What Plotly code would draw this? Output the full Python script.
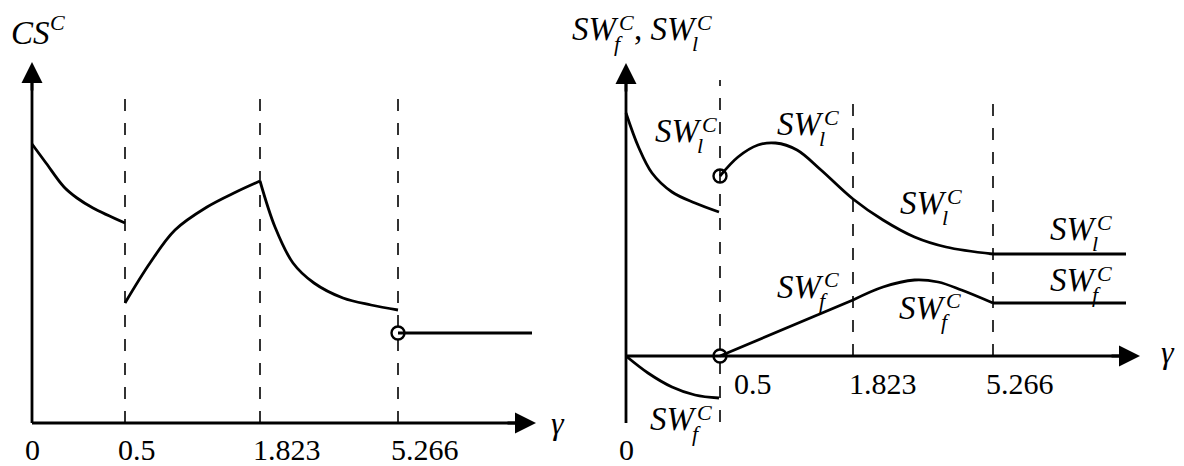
import plotly.graph_objects as go

# ---------------- data (schematic units) ----------------
gamma_ticks = ["0", "0.5", "1.823", "5.266"]
tick_pos_left = [0.0, 0.93, 2.28, 3.66]
tick_pos_right = [0.0, 0.94, 2.27, 3.67]

# Left panel: CS^C
cs1_x = [0.0, 0.14, 0.32, 0.45, 0.61, 0.93]
cs1_y = [2.79, 2.60, 2.36, 2.25, 2.15, 2.00]
cs2_x = [0.93, 1.18, 1.43, 1.75, 2.04, 2.28]
cs2_y = [1.20, 1.60, 1.93, 2.16, 2.31, 2.42]
cs3_x = [2.28, 2.43, 2.61, 2.82, 3.11, 3.39, 3.66]
cs3_y = [2.42, 1.96, 1.60, 1.40, 1.25, 1.18, 1.13]
cs4_x = [3.66, 5.00]
cs4_y = [0.90, 0.90]

# Right panel: SW_l^C
swl1_x = [0.0, 0.125, 0.26, 0.46, 0.69, 0.93]
swl1_y = [2.43, 2.09, 1.83, 1.64, 1.53, 1.44]
swl2_x = [0.94, 1.12, 1.32, 1.495, 1.71, 1.95, 2.27, 2.57, 2.885, 3.20, 3.67]
swl2_y = [1.80, 1.99, 2.11, 2.13, 2.06, 1.86, 1.57, 1.36, 1.19, 1.09, 1.02]
swl3_x = [3.67, 5.00]
swl3_y = [1.02, 1.02]

# Right panel: SW_f^C
swf1_x = [0.0, 0.22, 0.46, 0.69, 0.93]
swf1_y = [0.0, -0.17, -0.31, -0.39, -0.42]
swf2_x = [0.94, 2.27]
swf2_y = [0.0, 0.56]
swf3_x = [2.27, 2.57, 2.885, 3.12, 3.355, 3.67]
swf3_y = [0.56, 0.69, 0.76, 0.74, 0.66, 0.53]
swf4_x = [3.67, 5.00]
swf4_y = [0.53, 0.53]

# open circles (discontinuities)
left_open_x = [3.66]
left_open_y = [0.90]
right_open_x = [0.94, 0.94]
right_open_y = [1.80, 0.0]

# axis extents
left_xaxis_end = 5.04
left_yaxis_end = 3.61
right_xaxis_end = 5.14
right_yaxis_end = 2.93
right_yaxis_start = -0.67
left_dash_top = [3.35, 3.35, 3.35]
right_dash_top = [2.76, 2.56, 2.56]
right_dash_bottom = [-0.66, 0.0, 0.0]

FONT = "Liberation Serif, Liberation Sans, Arimo, sans-serif"
LW = 2.8

fig = go.Figure()


def line(x, y, xa, ya, shape="spline", width=LW, dash=None):
    fig.add_trace(go.Scatter(x=x, y=y, mode="lines", xaxis=xa, yaxis=ya,
                             line=dict(color="black", width=width, shape=shape,
                                       dash=dash, smoothing=1.0),
                             hoverinfo="skip", showlegend=False))


# dashed guide lines
for p, top in zip(tick_pos_left[1:], left_dash_top):
    line([p, p], [0, top], "x", "y", shape="linear", width=1.6, dash="12px,12px")
for p, top, bot in zip(tick_pos_right[1:], right_dash_top, right_dash_bottom):
    line([p, p], [bot, top], "x2", "y2", shape="linear", width=1.6, dash="12px,12px")

# axes lines
line([0, 0], [0, left_yaxis_end - 0.05], "x", "y", shape="linear", width=LW)
line([0, left_xaxis_end - 0.05], [0, 0], "x", "y", shape="linear", width=LW)
line([0, 0], [right_yaxis_start, right_yaxis_end - 0.05], "x2", "y2", shape="linear", width=LW)
line([0, right_xaxis_end - 0.05], [0, 0], "x2", "y2", shape="linear", width=LW)

# curves
for xs, ys in [(cs1_x, cs1_y), (cs2_x, cs2_y), (cs3_x, cs3_y)]:
    line(xs, ys, "x", "y")
line(cs4_x, cs4_y, "x", "y", shape="linear")
for xs, ys in [(swl1_x, swl1_y), (swl2_x, swl2_y), (swf1_x, swf1_y), (swf3_x, swf3_y)]:
    line(xs, ys, "x2", "y2")
for xs, ys in [(swl3_x, swl3_y), (swf2_x, swf2_y), (swf4_x, swf4_y)]:
    line(xs, ys, "x2", "y2", shape="linear")

# open circles
fig.add_trace(go.Scatter(x=left_open_x, y=left_open_y, mode="markers", xaxis="x", yaxis="y",
                         marker=dict(symbol="circle-open", size=13, color="black",
                                     line=dict(width=2.4, color="black")),
                         hoverinfo="skip", showlegend=False))
fig.add_trace(go.Scatter(x=right_open_x, y=right_open_y, mode="markers", xaxis="x2", yaxis="y2",
                         marker=dict(symbol="circle-open", size=13, color="black",
                                     line=dict(width=2.4, color="black")),
                         hoverinfo="skip", showlegend=False))

# arrow heads
def arrowhead(xr, yr, x, y, ax, ay):
    fig.add_annotation(x=x, y=y, ax=ax, ay=ay, xref=xr, yref=yr, axref=xr, ayref=yr,
                       text="", showarrow=True, arrowhead=2, arrowsize=1.5,
                       arrowwidth=LW, arrowcolor="black", standoff=0, startstandoff=0)

arrowhead("x", "y", 0, left_yaxis_end, 0, left_yaxis_end - 0.3)
arrowhead("x", "y", left_xaxis_end, 0, left_xaxis_end - 0.3, 0)
arrowhead("x2", "y2", 0, right_yaxis_end, 0, right_yaxis_end - 0.3)
arrowhead("x2", "y2", right_xaxis_end, 0, right_xaxis_end - 0.3, 0)


def text(xr, yr, x, y, t, size=30, xanchor="center", xshift=0, yshift=0):
    fig.add_annotation(x=x, y=y, xref=xr, yref=yr, text=t, showarrow=False,
                       xanchor=xanchor, yanchor="middle", xshift=xshift, yshift=yshift,
                       borderpad=0,
                       font=dict(family=FONT, size=size, color="black"))


def mlabel(xr, yr, s, v, main, sup=None, sub=None, size=33,
           sup_dy=7, sub_dy=-14, sup_dx=-2, sub_dx=-7, prefix=""):
    text(xr, yr, s, v, f"{prefix}<i>{main}</i>", size=size, xanchor="right")
    if sup:
        text(xr, yr, s, v, f"<i>{sup}</i>", size=round(size * 0.68), xanchor="left",
             xshift=sup_dx, yshift=sup_dy)
    if sub:
        text(xr, yr, s, v, f"<i>{sub}</i>", size=round(size * 0.68), xanchor="left",
             xshift=sub_dx, yshift=sub_dy)


# tick labels
text("x", "y", tick_pos_left[0], -0.26, gamma_ticks[0])
for p, lab in zip(tick_pos_left[1:], gamma_ticks[1:]):
    text("x", "y", p, -0.26, lab, xanchor="left", xshift=-8)
text("x2", "y2", tick_pos_right[0], -0.93, gamma_ticks[0])
right_tick_shift = [13, -5, -8]
for p, lab, sh in zip(tick_pos_right[1:], gamma_ticks[1:], right_tick_shift):
    text("x2", "y2", p, -0.27, lab, xanchor="left", xshift=sh)

# gamma axis labels
text("x", "y", left_xaxis_end + 0.22, 0.0, "<i>γ</i>", size=32)
text("x2", "y2", right_xaxis_end + 0.28, 0.04, "<i>γ</i>", size=32)

# titles
mlabel("x", "y", 0.19, 3.905, "CS", sup="C", size=33, sup_dy=10)
mlabel("x2", "y2", -0.06, 3.27, "SW", sup="C", sub="f")
mlabel("x2", "y2", 0.72, 3.27, "SW", sup="C", sub="l", prefix=", ")

# curve labels (right panel)
mlabel("x2", "y2", 0.77, 2.25, "SW", sup="C", sub="l")
mlabel("x2", "y2", 1.99, 2.32, "SW", sup="C", sub="l")
mlabel("x2", "y2", 3.22, 1.53, "SW", sup="C", sub="l")
mlabel("x2", "y2", 4.72, 1.27, "SW", sup="C", sub="l")
mlabel("x2", "y2", 1.99, 0.695, "SW", sup="C", sub="f")
mlabel("x2", "y2", 3.21, 0.485, "SW", sup="C", sub="f")
mlabel("x2", "y2", 4.72, 0.76, "SW", sup="C", sub="f")
mlabel("x2", "y2", 0.72, -0.63, "SW", sup="C", sub="f")

ax_common = dict(visible=False, showgrid=False, zeroline=False, fixedrange=True)
fig.update_layout(
    width=1184, height=466,
    margin=dict(l=0, r=0, t=0, b=0),
    paper_bgcolor="white", plot_bgcolor="white",
    showlegend=False,
    font=dict(family=FONT),
    xaxis=dict(domain=[0, 0.5], range=[-0.32, 5.60], **ax_common),
    yaxis=dict(domain=[0, 1], range=[-0.43, 4.23], anchor="x", **ax_common),
    xaxis2=dict(domain=[0.5, 1], range=[-0.34, 5.58], anchor="y2", **ax_common),
    yaxis2=dict(domain=[0, 1], range=[-1.10, 3.56], anchor="x2", **ax_common),
)

fig.write_html(
    "out.html",
    config={"displayModeBar": False},
    post_script="document.body.style.margin='0';document.body.style.overflow='hidden';",
)
